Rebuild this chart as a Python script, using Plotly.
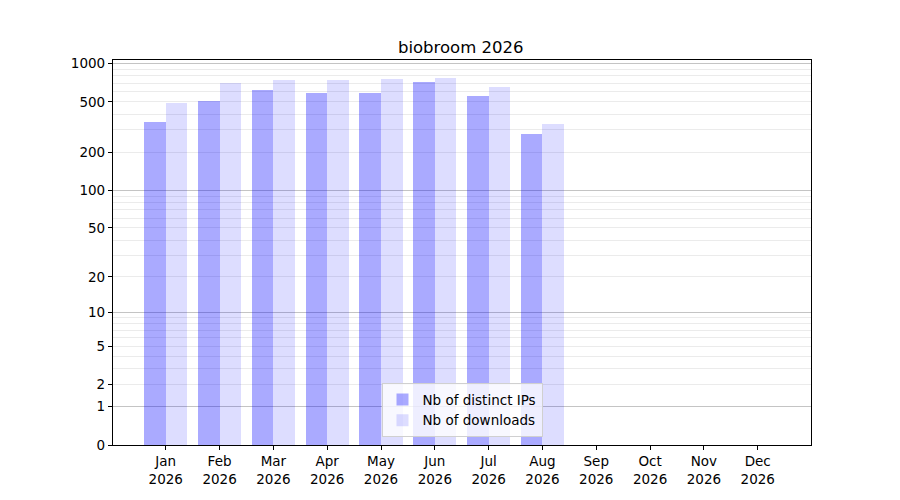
import plotly.graph_objects as go

# monthly stats
year = 2026
months = ["Jan", "Feb", "Mar", "Apr", "May", "Jun",
          "Jul", "Aug", "Sep", "Oct", "Nov", "Dec"]
nb_ips = [348, 511, 624, 591, 591, 721, 559, 280]
nb_downloads = [492, 708, 748, 748, 761, 776, 658, 336]

y_labels = [0, 1, 2, 5, 10, 20, 50, 100, 200, 500, 1000]
y_major = [1, 10, 100, 1000]
y_minor = [3, 4, 6, 7, 8, 9, 30, 40, 60, 70, 80, 90,
           300, 400, 600, 700, 800, 900]

x_labels = [f"{m}<br>{year}" for m in months]

FONT = "DejaVu Sans"


def main():
    fig = go.Figure()
    # y axis is log10(1 + n): bars sit on base 1 so a count of 0 is the bottom
    fig.add_trace(go.Bar(
        x=x_labels[:len(nb_ips)], y=nb_ips, base=1,
        offset=-0.4, width=0.4,
        name="Nb of distinct IPs",
        marker=dict(color="rgba(0,0,255,0.333)", line=dict(width=0)),
    ))
    fig.add_trace(go.Bar(
        x=x_labels[:len(nb_downloads)], y=nb_downloads, base=1,
        offset=0.0, width=0.4,
        name="Nb of downloads",
        marker=dict(color="rgba(0,0,255,0.133)", line=dict(width=0)),
        yaxis="y2",
    ))

    yrange = [0, 3.029]
    # the page body adds 8px, so the margins are shifted to compensate
    fig.update_layout(
        width=900, height=500,
        template="simple_white",
        paper_bgcolor="white", plot_bgcolor="white",
        font=dict(family=FONT, size=13.5, color="black"),
        margin=dict(l=105, r=97, t=52, b=63),
        barmode="overlay",
        title=dict(text=f"biobroom {year}", x=0.503, xanchor="center",
                   y=0.911, yanchor="bottom",
                   font=dict(family=FONT, size=16.5, color="black")),
        xaxis=dict(
            type="category", categoryorder="array", categoryarray=x_labels,
            range=[-0.98, 11.99], tickvals=x_labels, ticktext=x_labels,
            showline=True, linecolor="black", linewidth=1.2, mirror=True,
            ticks="outside", ticklen=4, tickcolor="black", showgrid=False,
        ),
        yaxis=dict(
            type="log", range=yrange,
            tickvals=[v + 1 for v in y_labels],
            ticktext=[str(v) for v in y_labels],
            showline=True, linecolor="black", linewidth=1.2, mirror=True,
            ticks="outside", ticklen=4, tickcolor="black",
            showgrid=True, gridcolor="#ebebeb", gridwidth=1,
            minor=dict(tickvals=[v + 1 for v in y_minor], ticks="",
                       showgrid=True, gridcolor="#ebebeb", gridwidth=1),
            zeroline=False,
        ),
        yaxis2=dict(
            type="log", range=yrange, overlaying="y", side="left",
            tickvals=[v + 1 for v in y_major], showticklabels=False,
            ticks="", showline=False,
            showgrid=True, gridcolor="#c4c4c4", gridwidth=1, zeroline=False,
        ),
        legend=dict(
            x=0.5, xanchor="center", y=0.02, yanchor="bottom",
            bgcolor="rgba(255,255,255,0.8)", bordercolor="#d0d0d0",
            borderwidth=1, font=dict(family=FONT, size=13.5),
            itemwidth=30, tracegroupgap=2,
        ),
        bargap=0,
    )
    fig.write_html("out.html")


if __name__ == "__main__":
    main()
